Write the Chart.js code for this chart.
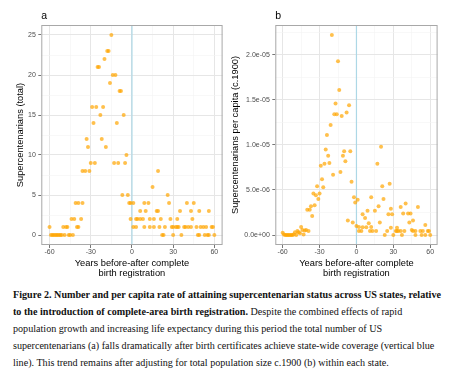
<!DOCTYPE html>
<html><head><meta charset="utf-8">
<script src="https://cdn.jsdelivr.net/npm/chart.js@4.4.1/dist/chart.umd.min.js"></script>
<style>
html,body{margin:0;padding:0;background:#fff;}
body{width:468px;height:385px;position:relative;overflow:hidden;}
canvas{position:absolute;top:0;}
#ca{left:0;} #cb{left:226px;}
#cap{position:absolute;left:13px;top:287px;font-family:"Liberation Serif","Times New Roman",serif;font-size:9.6px;line-height:16.9px;color:#111;}
#cap div{white-space:nowrap;}
</style></head><body>
<canvas id="ca" width="226" height="280"></canvas>
<canvas id="cb" width="242" height="280"></canvas>
<div id="cap">
<div><b id="l1">Figure 2. Number and per capita rate of attaining supercentenarian status across US states, relative</b></div>
<div><b>to the introduction of complete-area birth registration.</b> Despite the combined effects of rapid</div>
<div>population growth and increasing life expectancy during this period the total number of US</div>
<div>supercentenarians (a) falls dramatically after birth certificates achieve state-wide coverage (vertical blue</div>
<div>line). This trend remains after adjusting for total population size c.1900 (b) within each state.</div>
</div>
<script>
// ---------- DATA ----------
// Panel a: total supercentenarians by years before/after complete birth registration
const yearsA = [
  -15, -18, -17, -20, -25, -24, -14, -12, -16, -9, -8,
  -29, -26, -21, -23, -6, -28, -11, -33, -22, -32, -19, -4,
  -30, -27, -13, -10, -5, -36, -34, -31, 19, 15, -7, -3, 26,
  -41, -39, -36, -2, -1, 1, 9, 12, 27, 40, 45,
  6, 10, 18, 19, 35, 43, 49, 56,
  -44, -42, -37, -1, 3, 4, 6, 8, 13, 16, 21, 28, 33, 44,
  -60, -50, -48, -47, -40, -39, 1, 3, 9, 13, 16, 20, 24, 29, 30, 32, 33, 34, 38, 39, 41, 43, 47, 50, 52, 54, 58, 59,
  -59, -58, -57, -56, -55, -54, -53, -52, -51, -49, -46, -45, -43, 22, 23, 30, 36, 48, 49, 53, 55, 56, 60
];
const totalA = [
  25, 23, 23, 22, 21, 21, 20, 20, 19, 18, 18,
  16, 16, 16, 15, 15, 14, 14, 12, 12, 11, 11, 10,
  9, 9, 9, 9, 9, 8, 8, 8, 8, 6, 5, 5, 5,
  4, 4, 4, 4, 4, 4, 4, 4, 4, 4, 4,
  3, 3, 3, 3, 3, 3, 3, 3,
  2, 2, 2, 2, 2, 2, 2, 2, 2, 2, 2, 2, 2, 2,
  1, 1, 1, 1, 1, 1, 1, 1, 1, 1, 1, 1, 1, 1, 1, 1, 1, 1, 1, 1, 1, 1, 1, 1, 1, 1, 1, 1,
  0, 0, 0, 0, 0, 0, 0, 0, 0, 0, 0, 0, 0, 0, 0, 0, 0, 0, 0, 0, 0, 0, 0
];
// Panel b: supercentenarians per capita (population c.1900)
const yearsB = [
  -20, -15, -14, -17, -6, -8, -18, -16, -12, -21, -24, -25, -10, -5, -23, -11, -9, -22, -26, -29,
  -13, -19, -28, -4, -32, -27, -35, -30, -33, -2, -31, 1, -1, -34, -37, -40, -38, -36, -7, -3,
  -60, -59, -58, -57, -56, -55, -54, -53, -52, -51, -50, -49, -48, -47, -46, -45, -44, -43, -42, -41, -39,
  0, 2, 5, 8, 12, 28, 33, 45,
  20, 17, 27, 21, 12, 22, 40, 36, 50, 18, 9, 28, 26, 29, 15, 5, 7, 38, 42, 44, 10, 19, 46, 43, 56,
  2, 4, 11, 13, 16, 25, 32, 33, 34, 36, 39, 46, 48, 52, 54, 58, 59,
  23, 30, 37, 48, 53, 56, 60
];
const perCapitaB = [
  22.2e-6, 19.3e-6, 16.1e-6, 14.6e-6, 14.4e-6, 13.6e-6, 13.4e-6, 13.4e-6, 13.2e-6, 12.2e-6, 11.1e-6, 9.5e-6, 9.3e-6, 9.3e-6, 8.8e-6, 8.8e-6, 8.2e-6, 8.0e-6, 7.9e-6, 7.7e-6,
  7.0e-6, 6.7e-6, 6.2e-6, 5.9e-6, 5.4e-6, 5.3e-6, 4.6e-6, 4.6e-6, 4.4e-6, 4.2e-6, 4.0e-6, 3.9e-6, 3.6e-6, 3.3e-6, 3.2e-6, 2.8e-6, 2.8e-6, 2.1e-6, 1.6e-6, 1.4e-6,
  0.25e-6, 0.05e-6, 0, 0, 0, 0, 0, 0, 0, 0.05e-6, 0.3e-6, 0, 0.45e-6, 0.3e-6, 0.2e-6, 0.9e-6, 0.55e-6, 0.05e-6, 0.5e-6, 0.55e-6, 0.45e-6,
  1.0e-6, 0.9e-6, 0.85e-6, 0.85e-6, 0.9e-6, 0.8e-6, 0.8e-6, 0.55e-6,
  9.8e-6, 7.9e-6, 5.7e-6, 5.4e-6, 4.2e-6, 4.0e-6, 3.5e-6, 3.1e-6, 3.1e-6, 3.2e-6, 2.7e-6, 2.9e-6, 2.3e-6, 2.3e-6, 2.7e-6, 2.3e-6, 1.9e-6, 2.4e-6, 2.4e-6, 2.4e-6, 1.3e-6, 1.4e-6, 1.6e-6, 1.4e-6, 1.1e-6,
  0.45e-6, 0.45e-6, 0.45e-6, 0.45e-6, 0.45e-6, 0.45e-6, 0.45e-6, 0.45e-6, 0.45e-6, 0.45e-6, 0.45e-6, 0.45e-6, 0.45e-6, 0.45e-6, 0.45e-6, 0.45e-6, 0.45e-6,
  0, 0, 0, 0, 0, 0, 0
];
// Tick labels
const xMajorTicks = [-60, -30, 0, 30, 60];
const xMinorTicks = [-45, -15, 15, 45];
const xTickLabels = ['-60', '-30', '0', '30', '60'];
const yMajorTicksA = [0, 5, 10, 15, 20, 25];
const yMinorTicksA = [2.5, 7.5, 12.5, 17.5, 22.5];
const yTickLabelsA = ['0', '5', '10', '15', '20', '25'];
const yMajorTicksB = [0, 5e-6, 1e-5, 1.5e-5, 2e-5];
const yMinorTicksB = [2.5e-6, 7.5e-6, 1.25e-5, 1.75e-5, 2.25e-5];
const yTickLabelsB = ['0.0e+00', '5.0e-06', '1.0e-05', '1.5e-05', '2.0e-05'];
const registrationYear = 0;
const xTitle = ['Years before-after complete', 'birth registration'];

// ---------- CHARTS ----------
const FONT = '"Liberation Sans", Arial, sans-serif';
function expand(vals) {
  const lo = Math.min(...vals), hi = Math.max(...vals), d = (hi - lo) * 0.05;
  return [lo - d, hi + d];
}
function axis(major, minor, labels, vals, extra) {
  const all = major.map((v, i) => ({ value: v, label: labels[i], maj: true }))
    .concat(minor.map(v => ({ value: v, label: '', maj: false })))
    .sort((a, b) => a.value - b.value);
  const r = expand(vals);
  const isMaj = c => all[c.index] && all[c.index].maj;
  return Object.assign({
    type: 'linear', min: r[0], max: r[1],
    afterBuildTicks: ax => { ax.ticks = all.map(t => ({ value: t.value })); },
    ticks: {
      autoSkip: false, maxRotation: 0, color: '#4d4d4d', padding: 2.5,
      font: { family: FONT, size: 7, lineHeight: 1.2 },
      callback: (v, i) => (all[i] ? all[i].label : '')
    },
    grid: {
      color: c => isMaj(c) ? '#e6e6e6' : '#f3f3f3',
      lineWidth: c => isMaj(c) ? 1 : 0.6,
      tickColor: c => isMaj(c) ? '#777' : 'rgba(0,0,0,0)',
      tickLength: 3, drawTicks: true
    },
    border: { display: false }
  }, extra);
}
const panelPlugin = {
  id: 'panel',
  beforeDatasetsDraw(chart, args, opts) {
    const { ctx, chartArea: a, scales: { x } } = chart;
    const px = x.getPixelForValue(opts.vline);
    ctx.save();
    ctx.strokeStyle = 'rgb(173,216,230)'; ctx.lineWidth = 1.2;
    ctx.beginPath(); ctx.moveTo(px, a.top); ctx.lineTo(px, a.bottom); ctx.stroke();
    ctx.restore();
  },
  afterDraw(chart, args, opts) {
    const { ctx, chartArea: a } = chart;
    ctx.save();
    ctx.strokeStyle = '#a8a8a8'; ctx.lineWidth = 1;
    ctx.strokeRect(a.left + 0.5, a.top + 0.5, a.right - a.left - 1, a.bottom - a.top - 1);
    ctx.fillStyle = '#000'; ctx.font = '10.5px ' + FONT; ctx.textBaseline = 'alphabetic'; ctx.textAlign = 'left';
    ctx.fillText(opts.label, a.left, 18.5);
    ctx.restore();
  }
};
function makeChart(id, xs, ys, yMaj, yMin, yLab, yTitle, yWidth, yTitlePad, padRight, label) {
  const xAxis = axis(xMajorTicks, xMinorTicks, xTickLabels, xs, {
    afterFit: s => { s.height = 35; },
    title: { display: true, text: xTitle, color: '#000', font: { family: FONT, size: 9.3, lineHeight: '10px' }, padding: { top: 0, bottom: 1.7 } }
  });
  xAxis.ticks.padding = 0;
  return new Chart(document.getElementById(id), {
    type: 'scatter',
    data: { datasets: [{
      data: xs.map((x, i) => ({ x, y: ys[i] })),
      pointRadius: 2, pointHoverRadius: 2,
      pointBackgroundColor: 'rgba(255,165,0,0.7)', pointBorderWidth: 0
    }] },
    options: {
      responsive: false, animation: false, events: [],
      layout: { padding: { top: 25, right: padRight, left: 0, bottom: 0 } },
      plugins: { legend: { display: false }, tooltip: { enabled: false }, panel: { vline: registrationYear, label } },
      scales: {
        x: xAxis,
        y: axis(yMaj, yMin, yLab, ys, {
          afterFit: s => { s.width = yWidth; },
          title: { display: true, text: yTitle, color: '#000', font: { family: FONT, size: 9.3 }, padding: { top: yTitlePad, bottom: 0 } }
        })
      }
    },
    plugins: [panelPlugin]
  });
}
makeChart('ca', yearsA, totalA, yMajorTicksA, yMinorTicksA, yTickLabelsA, 'Supercentenarians (total)', 41.3, 15.2, 3.4, 'a');
makeChart('cb', yearsB, perCapitaB, yMajorTicksB, yMinorTicksB, yTickLabelsB, 'Supercentenarians per capita (c.1900)', 49.3, 4.2, 30.4, 'b');

// fit caption font so the first line matches the reference width
const cap = document.getElementById('cap');
const w = document.getElementById('l1').getBoundingClientRect().width;
if (w > 0) cap.style.fontSize = (9.6 * 428 / w).toFixed(2) + 'px';
</script>
</body></html>
